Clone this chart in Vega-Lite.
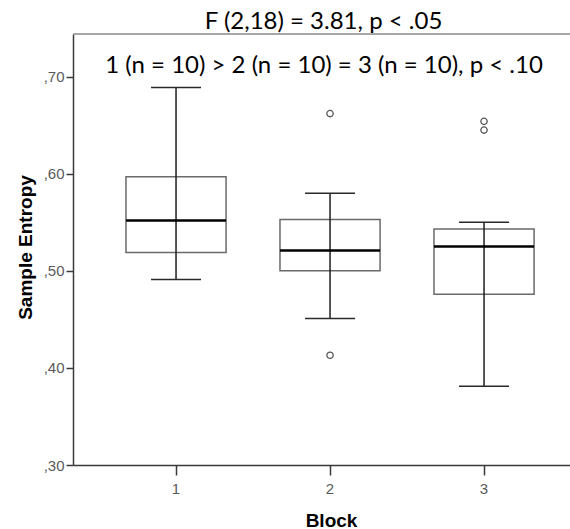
{
  "$schema": "https://vega.github.io/schema/vega-lite/v6.json",
  "autosize": "none",
  "padding": {"left": 73, "top": 34, "right": 0, "bottom": 64},
  "width": 497,
  "height": 431,
  "background": "white",
  "title": {
    "text": "F (2,18) = 3.81, p < .05",
    "font": "Lato",
    "fontSize": 24,
    "fontWeight": "normal",
    "color": "black",
    "anchor": "middle",
    "baseline": "alphabetic",
    "offset": 6,
    "dx": 2,
    "dy": 26
  },
  "datasets": {
    "boxes": [
      {"block": "1", "lower": 0.491, "q1": 0.519, "median": 0.552, "q3": 0.597, "upper": 0.689},
      {"block": "2", "lower": 0.451, "q1": 0.500, "median": 0.521, "q3": 0.553, "upper": 0.580},
      {"block": "3", "lower": 0.381, "q1": 0.476, "median": 0.525, "q3": 0.543, "upper": 0.550}
    ],
    "outliers": [
      {"block": "2", "value": 0.662},
      {"block": "2", "value": 0.413},
      {"block": "3", "value": 0.654},
      {"block": "3", "value": 0.645}
    ]
  },
  "config": {
    "view": {"stroke": null},
    "axis": {
      "grid": false,
      "domainColor": "#3a3a3a",
      "domainWidth": 1.5,
      "tickColor": "#3a3a3a",
      "tickWidth": 1.5,
      "labelColor": "#5a5a5a",
      "labelFont": "Liberation Sans",
      "labelFontSize": 15,
      "titleFont": "Liberation Sans",
      "titleFontSize": 19,
      "titleFontWeight": "bold",
      "titleColor": "black"
    }
  },
  "layer": [
    {
      "data": {"name": "boxes"},
      "mark": {"type": "bar", "fill": "white", "fillOpacity": 0, "stroke": "#6a6a6a", "strokeWidth": 1.5},
      "encoding": {
        "x": {
          "field": "block",
          "type": "nominal",
          "scale": {"type": "band", "domain": ["1", "2", "3"], "paddingInner": 0.35, "paddingOuter": 0.2886, "align": 0.596},
          "axis": {"title": "Block", "labelAngle": 0, "tickSize": 10, "labelPadding": 6, "titleX": 258, "titleY": 55, "titleBaseline": "middle"}
        },
        "y": {
          "field": "q1",
          "type": "quantitative",
          "scale": {"domain": [0.3, 0.744], "nice": false, "zero": false},
          "axis": {
            "title": "Sample Entropy",
            "values": [0.3, 0.4, 0.5, 0.6, 0.7],
            "labelExpr": "',' + substring(format(datum.value, '.2f'), 2)",
            "tickSize": 7,
            "labelPadding": 2,
            "titleX": -48,
            "titleY": 213,
            "titleBaseline": "middle",
            "titleAngle": -90
          }
        },
        "y2": {"field": "q3"}
      }
    },
    {
      "data": {"name": "boxes"},
      "mark": {"type": "rule", "color": "#1e1e1e", "strokeWidth": 1.5},
      "encoding": {
        "x": {"field": "block", "type": "nominal"},
        "y": {"field": "lower", "type": "quantitative"},
        "y2": {"field": "upper"}
      }
    },
    {
      "data": {"name": "boxes"},
      "mark": {"type": "tick", "color": "#2a2a2a", "size": 50, "thickness": 1.5, "opacity": 1},
      "encoding": {
        "x": {"field": "block", "type": "nominal"},
        "y": {"field": "upper", "type": "quantitative"}
      }
    },
    {
      "data": {"name": "boxes"},
      "mark": {"type": "tick", "color": "#2a2a2a", "size": 50, "thickness": 1.5, "opacity": 1},
      "encoding": {
        "x": {"field": "block", "type": "nominal"},
        "y": {"field": "lower", "type": "quantitative"}
      }
    },
    {
      "data": {"name": "boxes"},
      "mark": {"type": "tick", "color": "black", "size": 100, "thickness": 2.5, "opacity": 1},
      "encoding": {
        "x": {"field": "block", "type": "nominal"},
        "y": {"field": "median", "type": "quantitative"}
      }
    },
    {
      "data": {"name": "outliers"},
      "mark": {"type": "point", "shape": "circle", "filled": false, "size": 40, "stroke": "#555555", "strokeWidth": 1.3, "opacity": 1},
      "encoding": {
        "x": {"field": "block", "type": "nominal"},
        "y": {"field": "value", "type": "quantitative"}
      }
    },
    {
      "data": {"values": [{}]},
      "mark": {"type": "rule", "color": "#8a8a8a", "strokeWidth": 1.5},
      "encoding": {
        "y": {"datum": 0.744}
      }
    },
    {
      "data": {"values": [{"label": "1 (n = 10) > 2 (n = 10) = 3 (n = 10), p < .10"}]},
      "mark": {"type": "text", "font": "Lato", "fontSize": 24, "color": "black", "baseline": "alphabetic", "align": "center", "dx": -6},
      "encoding": {
        "x": {"datum": "2"},
        "y": {"datum": 0.704},
        "text": {"field": "label"}
      }
    }
  ]
}
